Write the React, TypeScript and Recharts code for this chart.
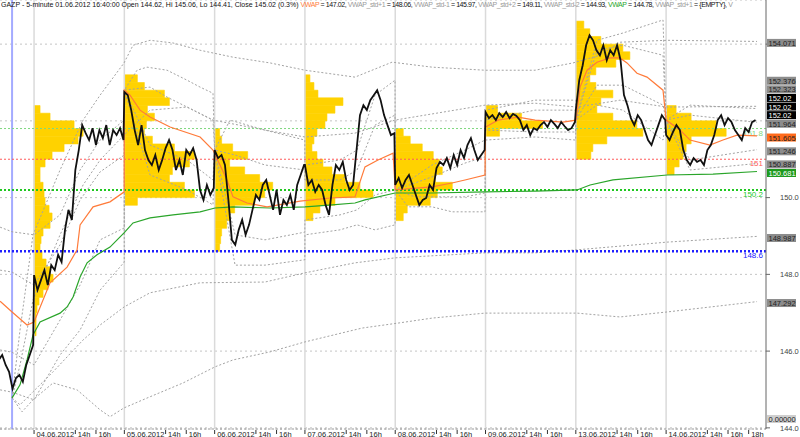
import React from 'react';
import {
  ComposedChart,
  Line,
  XAxis,
  YAxis,
  CartesianGrid,
  ReferenceLine,
  ReferenceArea,
  ReferenceDot,
} from 'recharts';

// time axis = hours since 04.06 10:00, one trading day = 10:00-18:45
const SESSION_HOURS = 8.75;
const CLOSE_STEP = 1 / 3; // one close every 20 minutes
const X_MIN = -3.3;
const X_MAX = 70.93;
const Y_MIN = 143.97;
const Y_MAX = 155.15;

const sessionDates = ['04.06.2012', '05.06.2012', '06.06.2012', '07.06.2012', '08.06.2012', '09.06.2012', '13.06.2012', '14.06.2012'];
const hourTicks = [
  { offset: 4, label: '14h' },
  { offset: 6, label: '16h' },
];
const lastHourTick = { offset: 8, label: '18h' };
const priceTicks = [144, 146, 148, 150, 152, 154];

// 01.06 tail starts 15:20
const close0106Start = -3.42;
const close0106 = [145.77, 145.9, 145.64, 145.46, 145.02, 145.3, 145.38, 145.2, 145.64, 145.9, 146.16];
const close0406 = [147.98, 147.59, 147.85, 148.11, 147.72, 148.24, 148.11, 148.51, 148.32, 149.16, 149.68, 149.42, 150.72, 151.24, 151.89, 151.68, 151.5, 151.81, 151.37, 151.76, 151.55, 151.89, 151.37, 151.76, 151.63, 151.81, 151.5];
const close0506 = [152.75, 152.67, 152.28, 151.76, 151.37, 151.89, 151.24, 150.98, 150.85, 151.11, 150.72, 150.98, 151.29, 151.5, 151.24, 150.72, 150.98, 150.59, 151.24, 151.11, 151.29, 150.98, 150.2, 149.94, 150.33, 150.07, 150.25];
const close0606 = [151.24, 151.03, 151.11, 150.85, 149.94, 148.9, 148.77, 149.16, 149.42, 149.03, 149.29, 149.68, 150.07, 149.94, 150.33, 150.46, 150.07, 149.68, 150.2, 149.55, 149.94, 149.81, 150.07, 149.68, 150.33, 150.59, 150.85];
const close0706 = [150.85, 150.33, 150.46, 150.15, 150.33, 150.2, 149.81, 149.55, 150.33, 150.85, 150.72, 150.93, 150.46, 150.2, 150.33, 151.24, 152.15, 152.41, 152.28, 152.54, 152.67, 152.8, 152.54, 152.15, 151.89, 151.63, 151.68];
const close0806 = [150.33, 150.51, 150.25, 150.46, 150.59, 150.33, 150.07, 149.81, 149.94, 149.99, 150.33, 150.2, 150.77, 150.93, 150.85, 151.03, 150.77, 151.11, 150.85, 151.24, 151.03, 151.37, 151.55, 151.24, 150.98, 151.11, 151.24];
const close0906 = [152.23, 152.07, 152.15, 152.02, 152.2, 152.1, 152.23, 152.07, 152.18, 152.13, 152.02, 151.76, 151.89, 151.63, 151.81, 151.76, 151.89, 151.97, 151.84, 152.02, 151.92, 151.81, 151.97, 151.86, 151.76, 151.81, 151.97];
const close1306 = [152.28, 153.06, 153.45, 153.97, 154.23, 154.1, 153.84, 153.71, 153.97, 153.58, 153.84, 153.71, 153.97, 153.58, 152.67, 152.41, 152.07, 151.89, 152.15, 152.02, 151.76, 151.5, 151.37, 151.63, 151.89, 152.15, 152.02];
const close1406 = [151.63, 151.5, 151.71, 151.89, 151.76, 151.24, 150.98, 150.85, 151.03, 150.93, 150.98, 150.85, 151.24, 151.37, 151.63, 152.02, 152.15, 151.89, 152.07, 151.97, 151.76, 151.63, 151.5, 151.81, 151.71, 151.97, 152.02];
const sessionCloses = [close0406, close0506, close0606, close0706, close0806, close0906, close1306, close1406];

// volume profiles, 0.2 price buckets from the top price down
const VP_STEP = 0.2;
const VOL_HOURS = 0.097; // one volume unit drawn as this many hours wide
const vpTop = [152.4, 153.2, 151.8, 153.2, 151.8, 152.4, 154.6, 152.4];
const vp0406 = [6, 16, 40, 49, 44, 30, 18, 11, 6, 6, 9, 10, 11, 15, 18, 16, 9, 7, 6, 8, 12, 16, 19, 14, 9, 5, 3, 2, 2, 2];
const vp0506 = [13, 20, 40, 45, 23, 30, 22, 20, 28, 50, 70, 65, 48, 45, 60, 70, 13];
const vp0606 = [5, 7, 18, 33, 15, 30, 45, 58, 50, 40, 20, 15, 12, 7, 6, 5];
const vp0706 = [5, 9, 13, 38, 30, 22, 20, 12, 9, 7, 12, 18, 27, 40, 55, 68, 30, 15, 8];
const vp0806 = [8, 15, 27, 38, 44, 47, 40, 57, 42, 35, 12, 8];
const vp0906 = [12, 36, 57, 14];
const vp1306 = [8, 14, 25, 47, 54, 40, 20, 14, 20, 37, 25, 21, 37, 61, 67, 31, 17, 15];
const vp1406 = [10, 25, 50, 60, 25, 20, 17, 13, 8];
const profiles = [vp0406, vp0506, vp0606, vp0706, vp0806, vp0906, vp1306, vp1406];

// session VWAP (orange) and its bands, [hours, price]
const vwapSession: [number, number][] = [[-3.29, 147.3], [-2.13, 147.02], [-0.68, 146.68], [0, 146.76], [1.55, 147.78], [3.2, 148.19], [4.17, 148.64], [4.46, 149.29], [5.72, 149.76], [7.36, 149.89], [8.74, 150.15], [8.75, 152.8], [9.3, 152.67], [10.27, 152.28], [11.24, 152.1], [13.18, 151.84], [16.09, 151.58], [17.34, 151.24], [18.7, 150.46], [19.28, 150.02], [20.64, 149.86], [22.58, 149.76], [25.78, 149.91], [28.68, 149.99], [31.1, 150.02], [32.07, 150.8], [33.33, 150.98], [34.79, 151.16], [35.0, 150.2], [38.57, 150.28], [40.5, 150.38], [41.76, 150.46], [43.7, 150.59], [43.75, 151.84], [44.96, 152.02], [46.9, 152.1], [48.55, 152.02], [51.26, 151.97], [52.52, 152.02], [52.91, 152.88], [53.59, 153.32], [54.55, 153.53], [55.81, 153.64], [56.78, 153.64], [57.46, 153.51], [58.43, 153.24], [59.4, 153.14], [60.95, 152.8], [61.25, 152.02], [62.6, 151.76], [63.57, 151.5], [65.5, 151.37], [66.76, 151.5], [68.12, 151.63], [70.06, 151.61]];
const sessionPlus2: [number, number][] = [[-3.29, 149.23], [-2.13, 149.11], [0, 149.03], [2.52, 149.55], [4.46, 150.72], [6.4, 151.5], [8.74, 152.02], [8.75, 152.8], [9.98, 153.32], [10.95, 153.4], [12.89, 153.32], [14.83, 153.06], [16.09, 152.88], [17.34, 152.72], [17.5, 151.24], [18.99, 152.02], [22.38, 151.76], [26.24, 151.5], [26.25, 150.85], [29.65, 150.98], [31.3, 151.24], [33.04, 152.67], [34.98, 153.06], [35.0, 150.2], [38.57, 150.85], [41.76, 151.24], [43.7, 151.5], [43.75, 152.28], [48.55, 152.54], [52.49, 152.54], [52.5, 152.02], [54.55, 154.1], [57.07, 154.29], [60.95, 154.63], [61.25, 152.02], [63.57, 152.41], [70.06, 152.32]];
const sessionPlus1: [number, number][] = [[-3.29, 148.11], [-2.13, 148.06], [0, 147.72], [2.52, 148.77], [4.46, 149.94], [6.4, 150.67], [8.74, 151.11], [8.75, 152.8], [11.24, 152.88], [12.89, 152.62], [14.83, 152.36], [17.34, 152.02], [17.5, 151.24], [19.48, 151.11], [22.38, 150.85], [26.24, 150.72], [26.25, 150.46], [29.65, 150.46], [31.3, 150.72], [33.04, 151.89], [34.98, 152.15], [35.0, 150.2], [38.57, 150.54], [41.76, 150.9], [43.7, 151.06], [43.75, 152.02], [48.55, 152.28], [52.49, 152.28], [52.5, 152.02], [54.55, 153.84], [57.07, 153.97], [60.95, 153.71], [61.25, 152.02], [63.57, 152.15], [70.06, 151.96]];
const sessionMinus1: [number, number][] = [[-3.29, 146.03], [-2.13, 145.97], [0, 145.64], [2.52, 146.81], [4.46, 147.72], [6.4, 148.9], [8.74, 149.21], [8.75, 152.8], [11.24, 151.37], [14.83, 150.98], [17.34, 150.46], [17.5, 151.24], [19.48, 149.03], [22.38, 148.9], [26.24, 149.1], [26.25, 149.42], [29.65, 149.55], [31.3, 149.68], [33.04, 150.07], [34.98, 150.2], [36.92, 150.02], [41.76, 150.02], [43.7, 150.12], [43.75, 151.76], [48.55, 151.71], [52.49, 151.71], [52.5, 152.02], [54.55, 152.93], [57.07, 152.93], [60.95, 152.41], [61.25, 152.02], [63.57, 150.98], [70.06, 151.25]];
const sessionMinus2: [number, number][] = [[-3.29, 144.99], [-2.13, 144.93], [0, 144.73], [2.52, 145.9], [4.46, 146.55], [6.4, 147.59], [8.74, 148.32], [8.75, 152.8], [11.24, 150.59], [14.83, 150.2], [17.34, 149.81], [17.5, 151.24], [19.48, 148.24], [22.38, 148.24], [26.24, 148.38], [26.25, 149.03], [29.65, 149.16], [31.3, 149.29], [33.04, 149.16], [34.98, 149.29], [35.0, 150.2], [36.24, 149.76], [38.57, 149.76], [40.5, 149.63], [43.7, 149.63], [43.75, 151.5], [48.55, 151.58], [52.49, 151.5], [52.5, 152.02], [54.55, 152.41], [57.07, 152.28], [60.95, 151.5], [61.25, 152.02], [63.57, 150.72], [70.06, 150.89]];

// VWAP anchored at 01.06 16:40 (green) and its bands
const vwapAnchored: [number, number][] = [[-2.13, 144.78], [-1.36, 145.12], [-0.68, 145.77], [-0.1, 146.42], [0.58, 146.76], [2.52, 146.99], [3.2, 147.15], [3.78, 147.41], [4.46, 147.93], [5.14, 148.3], [6.1, 148.51], [7.36, 148.71], [8.72, 149.08], [9.59, 149.34], [11.24, 149.47], [13.47, 149.55], [16.09, 149.63], [17.54, 149.73], [19.28, 149.76], [22.87, 149.73], [26.26, 149.76], [28.88, 149.81], [31.1, 149.86], [32.07, 149.94], [34.98, 150.12], [38.57, 150.12], [43.7, 150.15], [48.55, 150.17], [52.62, 150.2], [53.88, 150.33], [56.1, 150.46], [61.34, 150.59], [65.79, 150.61], [70.06, 150.68]];
const anchoredPlus2: [number, number][] = [[-2.13, 144.78], [-1.36, 146.55], [-0.1, 149.03], [2.52, 150.72], [4.75, 152.02], [6.4, 152.67], [8.72, 153.51], [9.59, 153.97], [11.24, 154.1], [13.47, 154.03], [16.09, 153.84], [19.28, 153.66], [22.87, 153.51], [26.26, 153.32], [31.1, 153.14], [34.69, 153.53], [38.57, 153.4], [43.7, 153.32], [48.55, 153.32], [52.23, 153.51], [54.84, 153.71], [56.78, 154.05], [61.34, 154.1], [70.06, 154.07]];
const anchoredPlus1: [number, number][] = [[-2.13, 144.78], [-1.36, 145.64], [-0.1, 147.33], [2.52, 149.03], [4.75, 150.33], [6.4, 150.98], [8.72, 151.63], [11.24, 152.28], [14.83, 152.36], [17.34, 152.02], [22.38, 151.76], [26.26, 151.58], [31.1, 151.68], [34.98, 152.02], [43.7, 152.41], [48.55, 152.46], [52.62, 152.36], [56.78, 152.54], [61.34, 152.36], [70.06, 152.38]];
const anchoredMinus1: [number, number][] = [[-2.13, 144.78], [-1.36, 144.6], [-0.1, 144.94], [1.84, 145.46], [4.75, 146.29], [6.4, 146.68], [8.72, 147.15], [11.24, 147.52], [16.09, 147.78], [22.38, 147.8], [26.26, 148.04], [31.1, 148.3], [34.98, 148.43], [43.7, 148.56], [48.55, 148.56], [52.62, 148.64], [61.34, 148.84], [70.06, 148.99]];
const anchoredMinus2: [number, number][] = [[-2.13, 144.78], [-1.16, 144.42], [-0.1, 144.73], [1.84, 145.17], [4.17, 144.99], [6.4, 144.47], [7.36, 144.29], [8.72, 144.52], [11.24, 144.81], [14.44, 145.17], [17.54, 145.59], [19.28, 145.77], [22.87, 145.98], [26.26, 146.24], [31.78, 146.6], [35.27, 146.73], [38.57, 146.86], [43.7, 146.99], [48.55, 146.99], [52.62, 146.99], [56.78, 146.89], [61.34, 147.02], [70.06, 147.29]];

const cursorTime = -2.13; // 01.06 16:40

const levelLines = [
  { value: 151.8, label: '151.8', color: '#7ed87e', width: 1 },
  { value: 151, label: '151', color: '#ff5a5a', width: 1 },
  { value: 150.2, label: '150.2', color: '#1fc81f', width: 2 },
  { value: 148.6, label: '148.6', color: '#2020ff', width: 2.5 },
];

const tagValues = [154.071, 152.376, 152.323, 152.02, 152.02, 152.02, 151.964, 151.605, 151.246, 150.887, 150.681, 148.987, 147.292, 0];
const tagKinds = ['gray', 'gray', 'gray', 'black', 'black', 'black', 'gray', 'orange', 'gray', 'gray', 'green', 'gray', 'gray', 'empty'];

const TAG_COLORS: Record<string, { bg: string; fg: string }> = {
  gray: { bg: '#8c8c8c', fg: '#222' },
  black: { bg: '#000', fg: '#fff' },
  orange: { bg: '#ff6a1a', fg: '#222' },
  green: { bg: '#1d9a1d', fg: '#fff' },
  empty: { bg: '#cfcfcf', fg: '#222' },
};

const ORANGE = '#ff7b3a';
const GREEN = '#2aa52a';
const BAND = '#a3a3a3';
const GOLD = '#ffd200';
const FONT = '"Liberation Sans", Arial, sans-serif';

const toPts = (arr: [number, number][]) => arr.map(([t, v]) => ({ t, v }));

const priceRows = [
  ...close0106.map((v, i) => ({ t: close0106Start + i * CLOSE_STEP, v })),
  ...sessionCloses.flatMap((arr, k) => arr.map((v, i) => ({ t: k * SESSION_HOURS + i * CLOSE_STEP, v }))),
];

const tickLabels = new Map<number, string>();
sessionDates.forEach((d, k) => {
  const s = k * SESSION_HOURS;
  tickLabels.set(s, d);
  hourTicks.forEach((h) => tickLabels.set(s + h.offset, h.label));
});
tickLabels.set((sessionDates.length - 1) * SESSION_HOURS + lastHourTick.offset, lastHourTick.label);
const xTicks = [...tickLabels.keys()].sort((a, b) => a - b);

// stack the right-hand value tags so they do not overlap
const PLOT_H = 429;
const pricePerPx = (Y_MAX - Y_MIN) / PLOT_H;
const tagStep = 8.6 * pricePerPx;
const tagLevels: number[] = new Array(tagValues.length);
{
  const order = tagValues.map((v, i) => i).sort((a, b) => tagValues[a] - tagValues[b] || a - b);
  let prev = -Infinity;
  order.forEach((i) => {
    const v = Math.max(tagValues[i], Y_MIN + 0.3);
    const lvl = Math.max(v - 1.5 * pricePerPx, prev + tagStep);
    tagLevels[i] = tagValues[i] > 153.5 ? v - 1.5 * pricePerPx : lvl;
    if (tagValues[i] <= 153.5) prev = lvl;
  });
}

const XTick = (props: any) => {
  const { x, y, payload } = props;
  return (
    <g>
      <line x1={x} x2={x} y1={y + 1} y2={y + 5} stroke="#333" strokeWidth={1} />
      <text x={x + 2.5} y={y + 7.5} fontSize={7.5} fontFamily={FONT} fill="#222">
        {tickLabels.get(payload.value)}
      </text>
    </g>
  );
};

const LevelLabel = (props: any) => {
  const { viewBox, text, color } = props;
  if (!viewBox) return null;
  return (
    <text x={viewBox.x + viewBox.width - 3} y={viewBox.y + 7} textAnchor="end" fontSize={8} fontFamily={FONT} fill={color}>
      {text}
    </text>
  );
};

const TagShape = (props: any) => {
  const { cx, cy, kind, text } = props;
  const c = TAG_COLORS[kind];
  return (
    <g>
      <rect x={cx + 1} y={cy - 4} width={29} height={8} fill={c.bg} />
      <text x={cx + 2.5} y={cy + 3} fontSize={7.5} fontFamily={FONT} fill={c.fg}>
        {text}
      </text>
    </g>
  );
};

const Title = () => {
  const g = { color: '#9a9a9a' };
  return (
    <div
      style={{
        position: 'absolute',
        left: 1,
        top: 0,
        width: 764,
        overflow: 'hidden',
        whiteSpace: 'nowrap',
        fontFamily: FONT,
        fontSize: 7,
        lineHeight: '10px',
        color: '#111',
      }}
    >
      GAZP - 5-minute 01.06.2012 16:40:00 Open 144.62, Hi 145.06, Lo 144.41, Close 145.02 (0.3%){' '}
      <span style={{ letterSpacing: '-0.42px' }}>
        <span style={{ color: ORANGE }}>VWAP</span> = 147.02, <span style={g}>VWAP_std+1</span> = 148.06,{' '}
        <span style={g}>VWAP_std-1</span> = 145.97, <span style={g}>VWAP_std+2</span> = 149.11,{' '}
        <span style={g}>VWAP_std-2</span> = 144.93, <span style={{ color: GREEN }}>VWAP</span> = 144.78,{' '}
        <span style={g}>VWAP_std+1</span> = {'{EMPTY}'}, <span style={g}>V</span>
      </span>
    </div>
  );
};

const bandLines = [sessionPlus2, sessionPlus1, sessionMinus1, sessionMinus2, anchoredPlus2, anchoredPlus1, anchoredMinus1, anchoredMinus2];

export default function App() {
  return (
    <div style={{ position: 'absolute', left: 0, top: 0, width: 800, height: 437, background: '#fff' }}>
      <ComposedChart width={800} height={437} margin={{ top: 0, right: 0, bottom: 0, left: 0 }}>
        <CartesianGrid vertical={false} stroke="#c4c4c4" strokeDasharray="2 3" />
        <XAxis
          dataKey="t"
          type="number"
          domain={[X_MIN, X_MAX]}
          allowDataOverflow
          ticks={xTicks}
          interval={0}
          height={8}
          tickSize={0}
          tickMargin={0}
          tick={<XTick />}
          axisLine={{ stroke: '#999', strokeDasharray: '2 2' }}
        />
        <YAxis
          orientation="right"
          type="number"
          domain={[Y_MIN, Y_MAX]}
          allowDataOverflow
          ticks={priceTicks}
          width={34}
          tickSize={4}
          tickMargin={10}
          tickFormatter={(v: number) => (v >= 152 ? '' : v.toFixed(1))}
          tick={{ fontSize: 7.5, fontFamily: FONT, fill: '#444', textAnchor: 'start' }}
          axisLine={{ stroke: '#666' }}
          tickLine={{ stroke: '#666' }}
        />

        {sessionDates.map((d, k) => (
          <ReferenceLine key={d} x={k * SESSION_HOURS} stroke="#dadada" strokeWidth={1.5} />
        ))}
        <ReferenceLine x={cursorTime} stroke="#a4abff" strokeWidth={2} />

        {profiles.map((vols, k) =>
          vols.map((vol, j) => (
            <ReferenceArea
              key={`vp-${k}-${j}`}
              x1={k * SESSION_HOURS}
              x2={k * SESSION_HOURS + vol * VOL_HOURS}
              y1={vpTop[k] - (j + 1) * VP_STEP}
              y2={vpTop[k] - j * VP_STEP}
              fill={GOLD}
              fillOpacity={1}
              stroke={GOLD}
              strokeWidth={0.6}
            />
          ))
        )}

        {bandLines.map((band, i) => (
          <Line
            key={`band-${i}`}
            data={toPts(band)}
            dataKey="v"
            stroke={BAND}
            strokeWidth={1}
            strokeDasharray="2 2"
            dot={false}
            activeDot={false}
            isAnimationActive={false}
          />
        ))}

        {levelLines.map((l) => (
          <ReferenceLine
            key={l.label}
            y={l.value}
            stroke={l.color}
            strokeWidth={l.width}
            strokeDasharray="2 2"
            label={<LevelLabel text={l.label} color={l.color} />}
          />
        ))}

        <Line data={toPts(vwapAnchored)} dataKey="v" stroke={GREEN} strokeWidth={1.2} dot={false} activeDot={false} isAnimationActive={false} />
        <Line data={toPts(vwapSession)} dataKey="v" stroke={ORANGE} strokeWidth={1.2} dot={false} activeDot={false} isAnimationActive={false} />
        <Line data={priceRows} dataKey="v" stroke="#111" strokeWidth={1.8} dot={false} activeDot={false} isAnimationActive={false} />

        {tagValues.map((v, i) => (
          <ReferenceDot
            key={`tag-${i}`}
            x={X_MAX}
            y={tagLevels[i]}
            r={0}
            ifOverflow="visible"
            shape={(p: any) => <TagShape {...p} kind={tagKinds[i]} text={v === 0 ? '0.00000' : String(v)} />}
          />
        ))}
      </ComposedChart>
      <Title />
    </div>
  );
}
